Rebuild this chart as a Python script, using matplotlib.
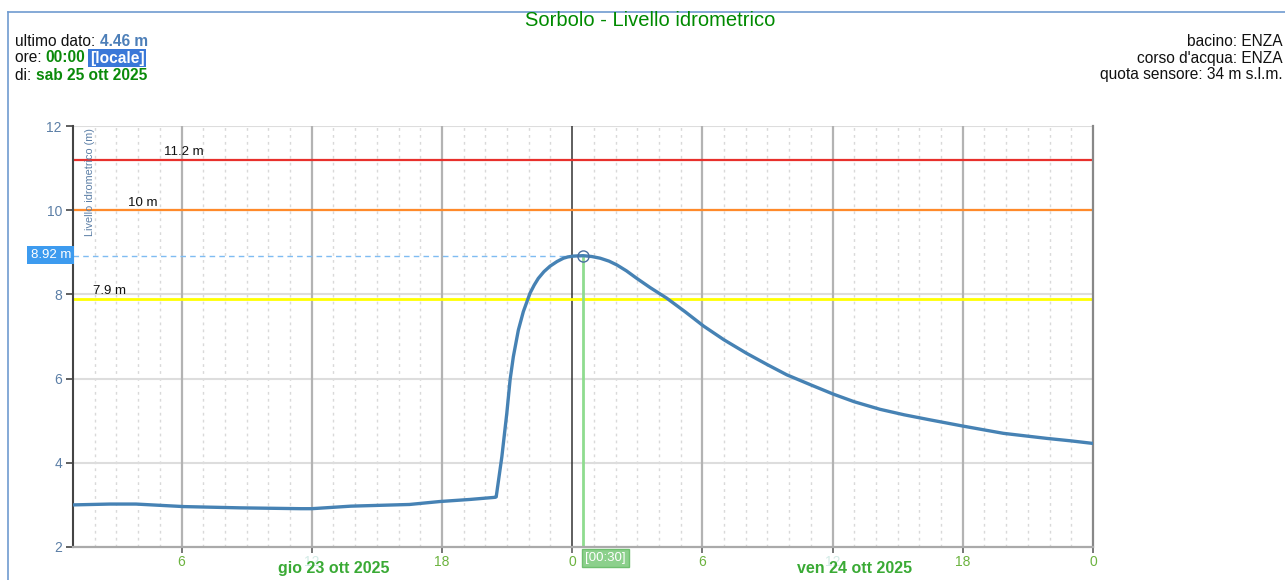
import matplotlib
matplotlib.use("Agg")
import matplotlib.pyplot as plt
from matplotlib.lines import Line2D

# ---------------- data ----------------
# hours since 23 Oct 2025 00:00
hours = [1.0, 2.7, 3.9, 6.1, 8.7, 11.5, 12.0, 13.8, 16.5, 17.9, 19.3, 20.45,
         20.5, 20.76, 20.99, 21.14, 21.29, 21.52, 21.75, 22.06, 22.25, 22.44, 22.7,
         22.98, 23.3, 23.6, 23.8, 24.06, 24.5, 24.9, 25.29, 25.7, 26.06, 26.5, 26.98,
         27.6, 28.36, 29.2, 30.05, 31.0, 32.04, 33.0, 33.89, 35.0, 36.04, 37.0,
         38.19, 39.3, 40.49, 42.03, 43.0, 43.87, 45.87, 47.0, 48.0]
levels = [3.00, 3.02, 3.02, 2.96, 2.93, 2.91, 2.91, 2.97, 3.01, 3.08, 3.13, 3.18,
          3.19, 4.14, 5.18, 5.97, 6.52, 7.15, 7.59, 8.03, 8.22, 8.38, 8.54,
          8.67, 8.78, 8.86, 8.89, 8.91, 8.92, 8.90, 8.86, 8.79, 8.70, 8.56, 8.38,
          8.16, 7.91, 7.59, 7.25, 6.92, 6.60, 6.33, 6.09, 5.85, 5.63, 5.45,
          5.27, 5.14, 5.02, 4.87, 4.78, 4.70, 4.58, 4.52, 4.46]

thresholds = [11.2, 10.0, 7.9]
threshold_labels = ["11.2 m", "10 m", "7.9 m"]
threshold_colors = ["#e8302c", "#ff8a2a", "#ffff00"]

peak_hour = 24.5
peak_value = 8.92
peak_label = "8.92 m"
peak_time_label = "[00:30]"

x_major = [6, 12, 18, 24, 30, 36, 42, 48]
x_major_labels = ["6", "12", "18", "0", "6", "12", "18", "0"]
y_ticks = [2, 4, 6, 8, 10, 12]
day_labels = ["gio 23 ott 2025", "ven 24 ott 2025"]
day_label_hours = [13.0, 37.0]

title = "Sorbolo - Livello idrometrico"
ylabel = "Livello idrometrico (m)"

# ---------------- figure ----------------
plt.rcParams['font.family'] = ['Liberation Sans', 'DejaVu Sans']
W, H = 1285, 580
fig = plt.figure(figsize=(W / 100, H / 100), dpi=100)
fig.patch.set_facecolor("white")

def fx(px):
    return px / W

def fy(py):
    return 1 - py / H

# outer frame
frame_col = "#6f9bd0"
fig.add_artist(Line2D([fx(8), 1.0], [fy(12), fy(12)], color=frame_col, lw=1.2, transform=fig.transFigure))
fig.add_artist(Line2D([fx(8), fx(8)], [fy(12), 0], color=frame_col, lw=1.2, transform=fig.transFigure))

ax = fig.add_axes([fx(73), fy(547), fx(1093) - fx(73), fy(126) - fy(547)])
xmin, xmax = 1.0, 48.0
ax.set_xlim(xmin, xmax)
ax.set_ylim(2, 12)

# grid: hourly dashed minor verticals
for h in range(2, 48):
    if h % 6 != 0:
        ax.axvline(h, color="#d9d9d9", lw=1, ls=(0, (2, 3)), zorder=0)
for h in x_major:
    if h == 24:
        ax.axvline(h, color="#333333", lw=1.1, zorder=1)
    elif h != 48:
        ax.axvline(h, color="#b3b3b3", lw=1.6, zorder=1)
for y in [4, 6, 8, 10, 12]:
    ax.axhline(y, color="#dddddd", lw=1.5, zorder=0)

# thresholds
label_hours = [6.1, 4.2, 2.7]
for v, lab, c, lh in zip(thresholds, threshold_labels, threshold_colors, label_hours):
    ax.axhline(v, color=c, lw=1.6 if c != "#ffff00" else 2.0, zorder=2)
    ax.text(lh, v + 0.03, lab, ha="center", va="bottom", fontsize=9.5, color="#111111", zorder=3)

# peak helper lines
ax.plot([xmin, peak_hour], [peak_value, peak_value], color="#7fbcf2", lw=1, ls=(0, (4, 3)), zorder=2)
ax.plot([peak_hour, peak_hour], [2, peak_value], color="#8fdc8f", lw=2, zorder=2)

# data line
ax.plot(hours, levels, color="#4682b4", lw=2.4, zorder=4, solid_joinstyle="round")
ax.plot([peak_hour], [peak_value], marker="o", ms=8, mfc="none", mec="#4a6fa0", mew=1, zorder=5)

# spines
ax.spines["top"].set_visible(False)
ax.spines["left"].set_color("#444444")
ax.spines["left"].set_linewidth(1.5)
ax.spines["bottom"].set_color("#aaaaaa")
ax.spines["bottom"].set_linewidth(1.6)
ax.spines["right"].set_color("#888888")
ax.spines["right"].set_linewidth(1.6)

ax.set_yticks(y_ticks)
ax.set_yticklabels([str(v) for v in y_ticks])
ax.tick_params(axis="y", colors="#444444", length=5, width=1.2, labelcolor="#5b7ea6", labelsize=10, pad=3)
ax.set_xticks(x_major)
ax.set_xticklabels(x_major_labels)
ax.tick_params(axis="x", colors="#777777", length=4, width=1.4, labelcolor="#6cb33f", labelsize=10, pad=2)
for lbl, txt in zip(ax.get_xticklabels(), x_major_labels):
    if txt == "12":
        lbl.set_color("#d3ebe6")

# day labels
for dl, dh in zip(day_labels, day_label_hours):
    ax.text(dh, -0.034, dl, transform=ax.get_xaxis_transform(), ha="center", va="top",
            fontsize=11.5, fontweight="bold", color="#3aaa35", zorder=6)

# y label inside plot
ax.text(0.012, 0.995, ylabel, transform=ax.transAxes, rotation=90, ha="left", va="top",
        fontsize=7.8, color="#5b7ea6")

# peak value box on the left
fig.text(fx(71), fy(255), peak_label, ha="right", va="center", fontsize=9.5, color="white",
         bbox=dict(boxstyle="square,pad=0.25", fc="#3d9bef", ec="none"))
# time label box
ax.text(peak_hour + 0.1, -0.012, peak_time_label, transform=ax.get_xaxis_transform(), ha="left", va="top",
        fontsize=9.5, color="white", bbox=dict(boxstyle="square,pad=0.22", fc="#8cd08c", ec="#6fbf6f"), zorder=7)

# title
fig.text(0.506, fy(21), title, ha="center", va="center", fontsize=14.5, color="#008a00")

# header texts
fig.canvas.draw()
renderer = fig.canvas.get_renderer()

def seq(x0, y0, parts):
    x = x0
    for txt, color, weight, box in parts:
        kw = {}
        if box:
            kw["bbox"] = dict(boxstyle="square,pad=0.1", fc="#3a78d8", ec="none")
        t = fig.text(fx(x), fy(y0), txt, ha="left", va="center", fontsize=11.2, color=color,
                     fontweight=weight, **kw)
        bb = t.get_window_extent(renderer=renderer)
        x += bb.width

seq(15, 41, [("ultimo dato: ", "#111111", "normal", False), ("4.46 m", "#4d7fb8", "bold", False)])
seq(15, 58, [("ore: ", "#111111", "normal", False), ("00:00", "#0a8a0a", "bold", False),
             (" ", "#111111", "normal", False), ("[locale]", "white", "bold", True)])
seq(15, 75, [("di: ", "#111111", "normal", False), ("sab 25 ott 2025", "#0a8a0a", "bold", False)])

for i, line in enumerate(["bacino: ENZA", "corso d'acqua: ENZA", "quota sensore: 34 m s.l.m."]):
    fig.text(fx(1283), fy(41 + 17 * i), line, ha="right", va="center", fontsize=11.2, color="#111111")

fig.savefig("out.png", dpi=100, facecolor="white")
